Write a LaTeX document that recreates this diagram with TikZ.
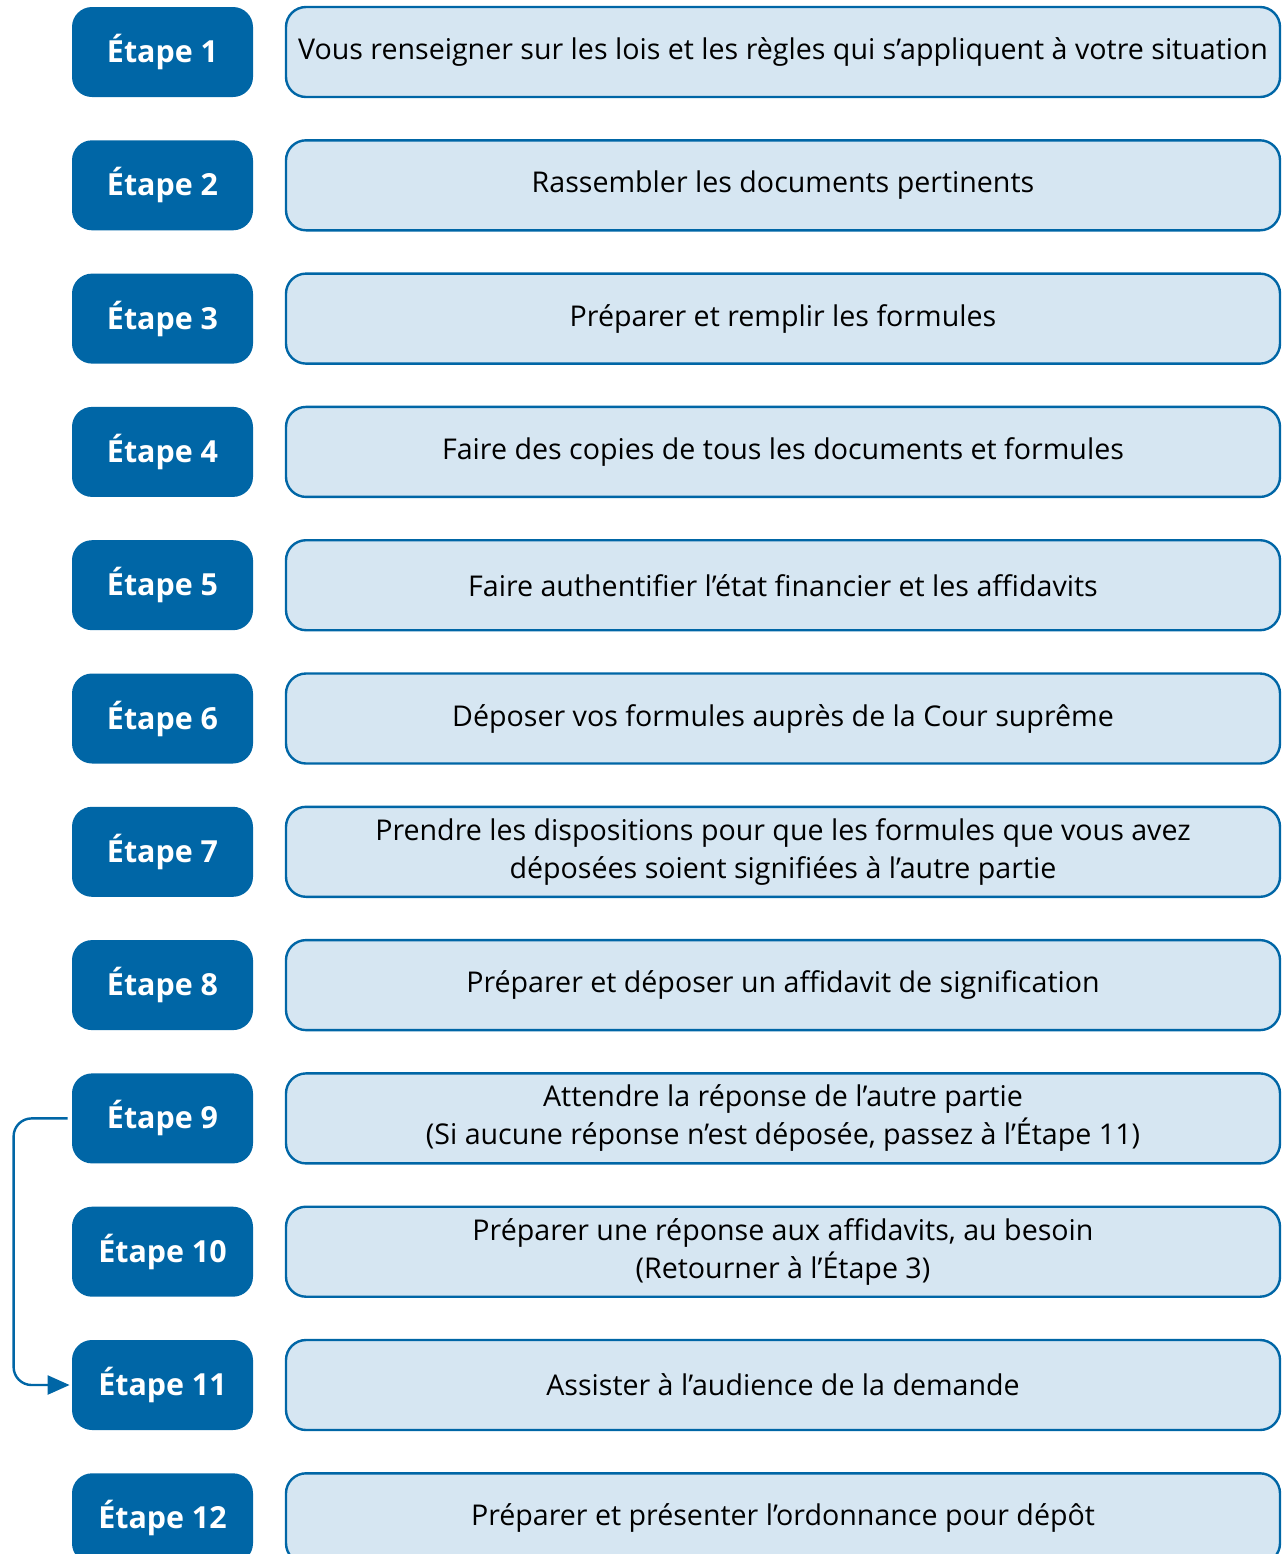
\documentclass[tikz,border=0pt]{standalone}
\usepackage{fontspec}
\setmainfont{Open Sans}
\usetikzlibrary{arrows.meta}
\definecolor{stepblue}{HTML}{0066A6}
\definecolor{paleblue}{HTML}{D6E6F2}

\begin{document}
\begin{tikzpicture}
    [
      x=0.5pt, y=-0.5pt,
      stepbox/.style={fill=stepblue, rounded corners=10pt, minimum width=90.5pt,
        minimum height=45pt, text=white, font=\fontsize{15.2}{19}\selectfont\bfseries},
      taskbox/.style={fill=paleblue, draw=stepblue, line width=1.2pt, rounded corners=10pt,
        minimum width=497pt, minimum height=45pt, align=center,
        font=\fontsize{14.3}{19}\selectfont},
      loopline/.style={draw=stepblue, line width=1.2pt, rounded corners=9pt,
        -{Triangle[length=11pt,width=9.5pt]}},
    ]

    \useasboundingbox (0,0) rectangle (1284,1554);

    \node [stepbox] (s1) at (162.5,52.0) {Étape 1};
    \node [stepbox] (s2) at (162.5,185.3) {Étape 2};
    \node [stepbox] (s3) at (162.5,318.6) {Étape 3};
    \node [stepbox] (s4) at (162.5,451.9) {Étape 4};
    \node [stepbox] (s5) at (162.5,585.2) {Étape 5};
    \node [stepbox] (s6) at (162.5,718.5) {Étape 6};
    \node [stepbox] (s7) at (162.5,851.8) {Étape 7};
    \node [stepbox] (s8) at (162.5,985.1) {Étape 8};
    \node [stepbox] (s9) at (162.5,1118.4) {Étape 9};
    \node [stepbox] (s10) at (162.5,1251.7) {Étape 10};
    \node [stepbox] (s11) at (162.5,1385.0) {Étape 11};
    \node [stepbox] (s12) at (162.5,1518.3) {Étape 12};

    \node [taskbox] (t1) at (783,52.0) {Vous renseigner sur les lois et les règles qui s’appliquent à votre situation};
    \node [taskbox] (t2) at (783,185.3) {Rassembler les documents pertinents};
    \node [taskbox] (t3) at (783,318.6) {Préparer et remplir les formules};
    \node [taskbox] (t4) at (783,451.9) {Faire des copies de tous les documents et formules};
    \node [taskbox] (t5) at (783,585.2) {Faire authentifier l’état financier et les affidavits};
    \node [taskbox] (t6) at (783,718.5) {Déposer vos formules auprès de la Cour suprême};
    \node [taskbox] (t7) at (783,851.8) {Prendre les dispositions pour que les formules que vous avez\\déposées soient signifiées à l’autre partie};
    \node [taskbox] (t8) at (783,985.1) {Préparer et déposer un affidavit de signification};
    \node [taskbox] (t9) at (783,1118.4) {Attendre la réponse de l’autre partie\\(Si aucune réponse n’est déposée, passez à l’Étape 11)};
    \node [taskbox] (t10) at (783,1251.7) {Préparer une réponse aux affidavits, au besoin\\(Retourner à l’Étape 3)};
    \node [taskbox] (t11) at (783,1385.0) {Assister à l’audience de la demande};
    \node [taskbox] (t12) at (783,1518.3) {Préparer et présenter l’ordonnance pour dépôt};

    % skip from step 9 to step 11
    \draw [loopline] ([xshift=-2pt]s9.west) -- ++(-54,0) |- ([xshift=-1pt]s11.west);
  \end{tikzpicture}
\end{document}
